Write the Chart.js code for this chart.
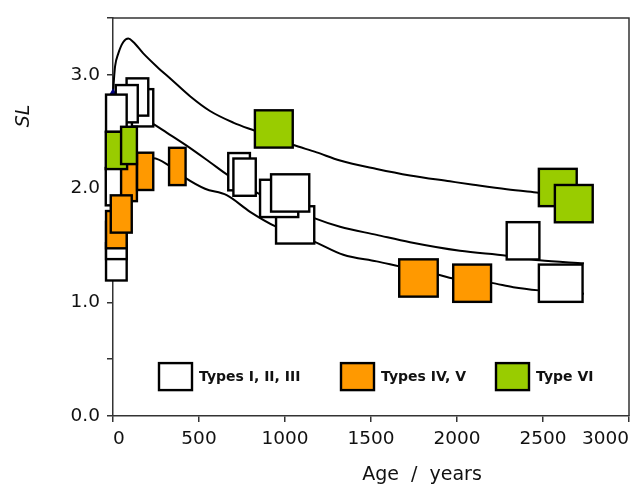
<!DOCTYPE html>
<html>
<head>
<meta charset="utf-8">
<title>SL vs age</title>
<script src="https://cdn.jsdelivr.net/npm/chart.js@4.4.1/dist/chart.umd.min.js"></script>
<style>
    html, body { margin: 0; padding: 0; background: #fff; }
    #wrap { width: 639px; height: 487px; }
</style>
</head>
<body>
<div id="wrap"><canvas id="slChart" width="639" height="487"></canvas></div>
<script>
// axis ticks
const xTickValues = [0, 500, 1000, 1500, 2000, 2500, 3000];
const xTickLabels = ["0", "500", "1000", "1500", "2000", "2500", "3000"];
const yTickValues = [0, 0.5, 1, 1.5, 2, 2.5, 3, 3.5];
const yTickLabels = ["0.0", "", "1.0", "", "2.0", "", "3.0", ""];

// model curves (age in years, SL)
const upperAge = [0, 5, 12, 31, 60, 89, 118, 176, 254, 341, 448, 564, 699, 826, 1045, 1184, 1320, 1533, 1727, 1959, 2095, 2289, 2473, 2740];
const upperSL = [2.84, 2.95, 3.075, 3.19, 3.29, 3.32, 3.29, 3.19, 3.075, 2.958, 2.813, 2.683, 2.581, 2.508, 2.386, 2.319, 2.247, 2.173, 2.116, 2.064, 2.034, 1.994, 1.964, 1.92];
const middleAge = [172, 238, 312, 428, 564, 670, 855, 1170, 1320, 1533, 1727, 2017, 2289, 2478, 2738];
const middleSL = [2.62, 2.566, 2.493, 2.378, 2.232, 2.116, 1.95, 1.741, 1.665, 1.593, 1.528, 1.453, 1.41, 1.369, 1.343];
const lowerAge = [187, 234, 326, 423, 535, 661, 797, 948, 1170, 1339, 1533, 1665, 1888, 1978, 2198, 2327, 2477, 2738];
const lowerSL = [2.15, 2.267, 2.203, 2.092, 1.999, 1.942, 1.796, 1.665, 1.534, 1.418, 1.36, 1.316, 1.244, 1.209, 1.171, 1.133, 1.105, 1.075];

// measured samples: age, age half-range, SL (drawing order = array order)
const typeI_III_Age = [19.5, 19.5, 20, 172, 142, 80, 19.5, 733, 765, 1059, 966, 1030, 2384, 2603];
const typeI_III_AgeErr = [60, 60, 62, 62, 63, 64, 60, 63, 65, 111, 111, 111, 95, 127];
const typeI_III_SL = [1.356, 1.544, 2.017, 2.711, 2.806, 2.747, 2.663, 2.149, 2.101, 1.681, 1.914, 1.962, 1.541, 1.168];

const typeIV_V_Age = [19.5, 93, 48, 187, 374, 1776, 2088];
const typeIV_V_AgeErr = [60, 46, 61, 47, 48, 112, 110];
const typeIV_V_SL = [1.639, 2.054, 1.777, 2.152, 2.195, 1.214, 1.168];

const typeVI_Age = [20, 93, 935, 2586, 2679];
const typeVI_AgeErr = [62, 46, 110, 110, 110];
const typeVI_SL = [2.336, 2.38, 2.525, 2.01, 1.868];

const SL_ERR = 0.164;

const legendLabels = ["Types I, II, III", "Types IV, V", "Type VI"];
const groupColors = ["#ffffff", "#ff9900", "#99cc00"];

const FONT = "'DejaVu Sans', sans-serif";

document.addEventListener("DOMContentLoaded", () => {
    setupChart();
});

function toPoints(xs, ys) {
    return xs.map((x, i) => ({ x, y: ys[i] }));
}

function curve(xs, ys, first) {
    return {
        type: "line",
        data: toPoints(xs, ys),
        borderColor: "#000",
        borderWidth: 2,
        cubicInterpolationMode: "monotone",
        pointRadius: first ? (ctx) => (ctx.dataIndex === 0 ? 3 : 0) : 0,
        pointStyle: "triangle",
        pointBackgroundColor: "#000080",
        pointBorderColor: "#000080",
        fill: false,
        clip: false,
    };
}

function drawBoxes(chart, ages, errs, sls, color) {
    const { ctx } = chart;
    const xs = chart.scales.x;
    const ys = chart.scales.y;
    ages.forEach((age, i) => {
        const x1 = xs.getPixelForValue(age - errs[i]);
        const x2 = xs.getPixelForValue(age + errs[i]);
        const y1 = ys.getPixelForValue(sls[i] + SL_ERR);
        const y2 = ys.getPixelForValue(sls[i] - SL_ERR);
        ctx.fillStyle = color;
        ctx.fillRect(x1, y1, x2 - x1, y2 - y1);
        ctx.strokeRect(x1, y1, x2 - x1, y2 - y1);
    });
}

const decorPlugin = {
    id: "decor",
    afterDatasetsDraw(chart) {
        const { ctx } = chart;
        ctx.save();
        ctx.strokeStyle = "#000";
        ctx.lineWidth = 2.4;
        drawBoxes(chart, typeI_III_Age, typeI_III_AgeErr, typeI_III_SL, groupColors[0]);
        drawBoxes(chart, typeIV_V_Age, typeIV_V_AgeErr, typeIV_V_SL, groupColors[1]);
        drawBoxes(chart, typeVI_Age, typeVI_AgeErr, typeVI_SL, groupColors[2]);
        ctx.restore();
    },
    afterDraw(chart) {
        const { ctx, chartArea: area } = chart;
        ctx.save();

        // top and right frame
        ctx.strokeStyle = "#333";
        ctx.lineWidth = 1.5;
        ctx.beginPath();
        ctx.moveTo(area.left, area.top);
        ctx.lineTo(area.right, area.top);
        ctx.lineTo(area.right, area.bottom);
        ctx.stroke();

        // legend inside the plot
        const boxLefts = [46, 228, 383];
        const boxTop = area.top + 345;
        ctx.lineWidth = 2.4;
        ctx.strokeStyle = "#000";
        ctx.font = `bold 14px ${FONT}`;
        ctx.textBaseline = "middle";
        ctx.textAlign = "left";
        legendLabels.forEach((label, i) => {
            const bx = area.left + boxLefts[i];
            ctx.fillStyle = groupColors[i];
            ctx.fillRect(bx, boxTop, 33, 27);
            ctx.strokeRect(bx, boxTop, 33, 27);
            ctx.fillStyle = "#111";
            ctx.fillText(label, bx + 40, boxTop + 14);
        });

        // axis titles
        ctx.fillStyle = "#111";
        ctx.font = `19px ${FONT}`;
        ctx.textAlign = "center";
        ctx.textBaseline = "alphabetic";
        ctx.fillText("Age  /  years", 422, 480);

        ctx.translate(24, 116);
        ctx.rotate(-Math.PI / 2);
        ctx.font = `italic 19px ${FONT}`;
        ctx.textBaseline = "middle";
        ctx.fillText("SL", 0, 0);

        ctx.restore();
    },
};

function setupChart() {
    const canvas = document.getElementById("slChart");
    if (!canvas || typeof Chart === "undefined") return;

    new Chart(canvas, {
        type: "line",
        data: {
            datasets: [
                curve(upperAge, upperSL, true),
                curve(middleAge, middleSL, false),
                curve(lowerAge, lowerSL, false),
            ],
        },
        options: {
            responsive: false,
            animation: false,
            devicePixelRatio: 1,
            layout: {
                padding: { left: 0, top: 14, right: 10, bottom: 0 },
            },
            plugins: {
                legend: { display: false },
                tooltip: { enabled: false },
            },
            scales: {
                x: {
                    type: "linear",
                    min: 0,
                    max: 3000,
                    afterBuildTicks: (scale) => {
                        scale.ticks = xTickValues.map((value) => ({ value }));
                    },
                    afterFit: (scale) => {
                        scale.height = 71;
                    },
                    ticks: {
                        align: "inner",
                        padding: 6,
                        maxRotation: 0,
                        color: "#111",
                        font: { family: FONT, size: 18.5 },
                        callback: (value, index) => xTickLabels[index],
                    },
                    grid: {
                        drawOnChartArea: false,
                        tickLength: 6,
                        color: "#333",
                        lineWidth: 1.5,
                    },
                    border: { color: "#333", width: 1.5 },
                },
                y: {
                    min: 0,
                    max: 3.5,
                    afterBuildTicks: (scale) => {
                        scale.ticks = yTickValues.map((value) => ({ value }));
                    },
                    afterFit: (scale) => {
                        scale.width = 113;
                    },
                    ticks: {
                        padding: 7,
                        color: "#111",
                        font: { family: FONT, size: 18.5 },
                        callback: (value, index) => yTickLabels[index],
                    },
                    grid: {
                        drawOnChartArea: false,
                        tickLength: 6,
                        color: "#333",
                        lineWidth: 1.5,
                    },
                    border: { color: "#333", width: 1.5 },
                },
            },
        },
        plugins: [decorPlugin],
    });
}
</script>
</body>
</html>
